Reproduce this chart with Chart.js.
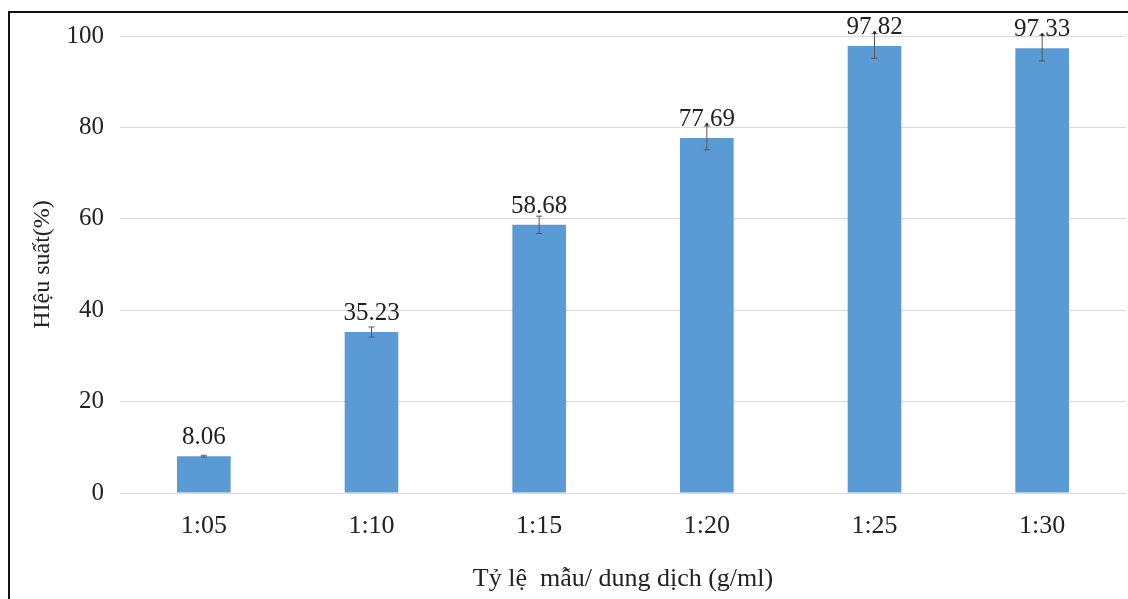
<!doctype html>
<html lang="vi">
  <head>
    <meta charset="utf-8">
    <title>Hiệu suất theo tỷ lệ</title>
    <script src="https://cdn.jsdelivr.net/npm/chart.js"></script>
    <style>
      html, body { margin: 0; padding: 0; background: #fff; }
      #wrap { position: relative; width: 1128px; height: 599px; }
      #frame { position: absolute; left: 8px; top: 11px; right: -4px; bottom: -4px;
               border-left: 2px solid #111; border-top: 2px solid #111; pointer-events: none; }
    </style>
  </head>
  <body>
    <div id="wrap">
      <canvas id="chart1" width="1128" height="599"></canvas>
      <div id="frame"></div>
    </div>

    <script>
    // data
    const ratios = ['1:05', '1:10', '1:15', '1:20', '1:25', '1:30'];
    const yields = [8.06, 35.23, 58.68, 77.69, 97.82, 97.33];
    const errors = [0.2, 1.1, 1.9, 2.6, 2.7, 2.8];
    const yTicks = [0, 20, 40, 60, 80, 100];

    const serif = "'Liberation Serif', 'Times New Roman', serif";

    // error bars + value labels, drawn from the scales
    const barExtras = {
      id: 'barExtras',
      afterDatasetsDraw(chart) {
        const ctx = chart.ctx;
        const y = chart.scales.y;
        const meta = chart.getDatasetMeta(0);
        ctx.save();
        meta.data.forEach((bar, i) => {
          const x = bar.x;
          const top = y.getPixelForValue(yields[i] + errors[i]);
          const bot = y.getPixelForValue(yields[i] - errors[i]);
          ctx.strokeStyle = '#555';
          ctx.lineWidth = 1;
          ctx.beginPath();
          ctx.moveTo(x, top); ctx.lineTo(x, bot);
          ctx.moveTo(x - 3, top); ctx.lineTo(x + 3, top);
          ctx.moveTo(x - 3, bot); ctx.lineTo(x + 3, bot);
          ctx.stroke();

          ctx.fillStyle = '#222';
          ctx.font = '25px ' + serif;
          ctx.textAlign = 'center';
          ctx.textBaseline = 'bottom';
          ctx.fillText(yields[i].toFixed(2), x, bar.y - 6);
        });
        ctx.restore();
      }
    };

    const ctx = document.getElementById('chart1').getContext('2d');
    const chart = new Chart(ctx, {
      type: 'bar',
      data: {
        labels: ratios,
        datasets: [{
          data: yields,
          backgroundColor: '#5b9bd5',
          borderWidth: 0,
          categoryPercentage: 1,
          barPercentage: 0.32
        }]
      },
      options: {
        responsive: false,
        animation: false,
        layout: { padding: { top: 36, right: 2, left: 0, bottom: 0 } },
        plugins: { legend: { display: false }, tooltip: { enabled: false } },
        scales: {
          x: {
            grid: { display: false },
            border: { display: false },
            ticks: { color: '#222', font: { family: serif, size: 26 }, padding: 10 },
            title: {
              display: true,
              text: 'Tỷ lệ  mẫu/ dung dịch (g/ml)',
              color: '#222',
              font: { family: serif, size: 26 },
              padding: { top: 0 }
            },
            afterFit(scale) { scale.height = 106; }
          },
          y: {
            min: 0,
            max: 100,
            afterBuildTicks(scale) { scale.ticks = yTicks.map(v => ({ value: v })); },
            grid: { color: '#d9d9d9', lineWidth: 1, drawTicks: false },
            border: { display: false },
            ticks: { color: '#222', font: { family: serif, size: 25 }, padding: 16 },
            title: {
              display: true,
              text: 'HIệu suất(%)',
              color: '#222',
              font: { family: serif, size: 24 },
              padding: { top: 28, bottom: 0 }
            },
            afterFit(scale) { scale.width = 120; }
          }
        }
      },
      plugins: [barExtras]
    });
    </script>
  </body>
</html>
